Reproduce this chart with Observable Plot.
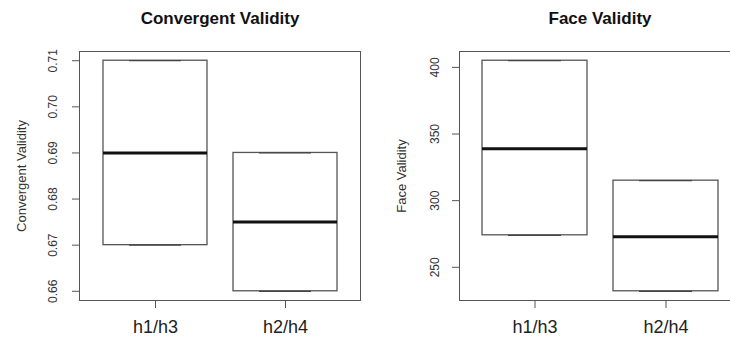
<!DOCTYPE html>
<html>
<head>
<meta charset="utf-8">
<script src="https://cdn.jsdelivr.net/npm/d3@7"></script>
<script src="https://cdn.jsdelivr.net/npm/@observablehq/plot@0.6"></script>
<style>
  html, body { margin: 0; padding: 0; background: white; }
  #wrap { position: relative; width: 730px; height: 341px; overflow: hidden; background: white; }
  #wrap svg { position: absolute; top: 0; }
</style>
</head>
<body>
<div id="wrap"></div>
<script>
const categories = ["h1/h3", "h2/h4"];

const convTitle = "Convergent Validity";
const convLower = [0.67, 0.66];
const convMedian = [0.69, 0.675];
const convUpper = [0.71, 0.69];
const convTicks = [0.66, 0.67, 0.68, 0.69, 0.70, 0.71];
const convTickLabels = ["0.66", "0.67", "0.68", "0.69", "0.70", "0.71"];

const faceTitle = "Face Validity";
const faceLower = [274, 232];
const faceMedian = [339, 273];
const faceUpper = [405, 315];
const faceTicks = [250, 300, 350, 400];
const faceTickLabels = ["250", "300", "350", "400"];

const FONT = "'Liberation Sans', Arial, Helvetica, sans-serif";

function panel(o) {
  const data = categories.map((c, i) => ({cat: c, lower: o.lower[i], median: o.median[i], upper: o.upper[i]}));
  const lo = d3.min(o.lower), hi = d3.max(o.upper), pad = (hi - lo) * 0.04;
  return Plot.plot({
    width: o.width,
    height: 341,
    marginTop: 51,
    marginBottom: 41,
    marginLeft: o.marginLeft,
    marginRight: o.marginRight,
    style: {fontFamily: FONT, background: "white", overflow: "visible"},
    x: {type: "band", domain: categories, range: o.xRange, paddingInner: 0.2, paddingOuter: 0.1, align: 0.5},
    y: {domain: [lo - pad, hi + pad]},
    marks: [
      Plot.frame({stroke: "#555"}),
      Plot.axisY({ticks: o.ticks, tickSize: 7, tickFormat: () => "", label: null, stroke: "#555"}),
      Plot.text(o.ticks, {y: d => d, text: (d, i) => o.tickLabels[i], frameAnchor: "left", dx: o.tickDx, rotate: -90, textAnchor: "middle", lineAnchor: "middle", fontSize: 12, fill: "#333"}),
      Plot.axisX({tickSize: 8, tickPadding: 12, fontSize: 18, label: null, fill: "#222", stroke: "#555"}),
      Plot.barY(data, {x: "cat", y1: "lower", y2: "upper", fill: "white", stroke: "#555", strokeWidth: 1.3}),
      Plot.tickY(data, {x: "cat", y: "lower", insetLeft: 26, insetRight: 26, stroke: "#444", strokeWidth: 1.3}),
      Plot.tickY(data, {x: "cat", y: "upper", insetLeft: 26, insetRight: 26, stroke: "#444", strokeWidth: 1.3}),
      Plot.tickY(data, {x: "cat", y: "median", stroke: "#111", strokeWidth: 3}),
      Plot.text([o.title], {text: d => d, frameAnchor: "top", dy: -33, textAnchor: "middle", lineAnchor: "middle", fontSize: 17, fontWeight: "bold", fill: "#111"}),
      Plot.text([o.title], {text: d => d, frameAnchor: "left", dx: o.labelDx, rotate: -90, textAnchor: "middle", lineAnchor: "middle", fontSize: 13, fill: "#333"})
    ]
  });
}

const left = panel({
  title: convTitle, lower: convLower, median: convMedian, upper: convUpper,
  ticks: convTicks, tickLabels: convTickLabels,
  width: 365, marginLeft: 79, marginRight: 5, xRange: [90, 350], tickDx: -26, labelDx: -58
});
left.style.left = "0px";

const right = panel({
  title: faceTitle, lower: faceLower, median: faceMedian, upper: faceUpper,
  ticks: faceTicks, tickLabels: faceTickLabels,
  width: 376, marginLeft: 94, marginRight: 1, xRange: [103.5, 365.5], tickDx: -24, labelDx: -58
});
right.style.left = "365px";

const wrap = document.getElementById("wrap");
wrap.appendChild(left);
wrap.appendChild(right);
</script>
</body>
</html>
